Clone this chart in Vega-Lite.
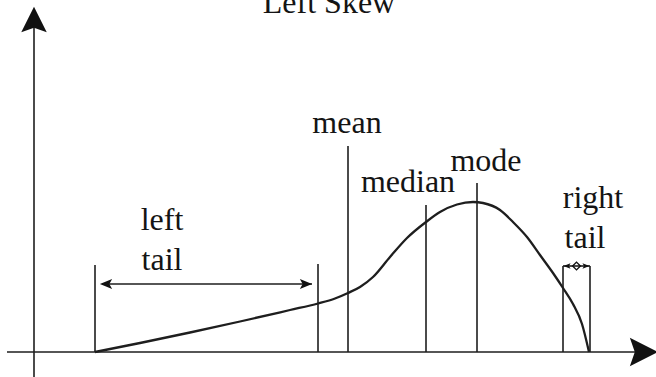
{
  "$schema": "https://vega.github.io/schema/vega-lite/v6.json",
  "width": 656,
  "height": 377,
  "autosize": {"type": "none"},
  "padding": 0,
  "background": "white",
  "config": {"view": {"stroke": null}},
  "datasets": {
    "segments": [
      {"part": "y axis", "x": 34, "y": 25, "x2": 34, "y2": 377},
      {"part": "x axis", "x": 7, "y": 352, "x2": 642, "y2": 352},
      {"part": "left tail start", "x": 95, "y": 265, "x2": 95, "y2": 352},
      {"part": "left tail end", "x": 318, "y": 264, "x2": 318, "y2": 352},
      {"part": "mean", "x": 348, "y": 146, "x2": 348, "y2": 352},
      {"part": "median", "x": 426, "y": 205, "x2": 426, "y2": 352},
      {"part": "mode", "x": 477, "y": 183, "x2": 477, "y2": 352},
      {"part": "right tail left", "x": 563, "y": 266, "x2": 563, "y2": 352},
      {"part": "right tail right", "x": 590, "y": 266, "x2": 590, "y2": 352},
      {"part": "right tail top", "x": 563, "y": 266, "x2": 590, "y2": 266},
      {"part": "left tail arrow", "x": 102, "y": 284, "x2": 312, "y2": 284}
    ],
    "curve": [
      {"x": 95, "y": 352},
      {"x": 140, "y": 343},
      {"x": 190, "y": 332.5},
      {"x": 240, "y": 321.5},
      {"x": 290, "y": 310},
      {"x": 318, "y": 303.5},
      {"x": 335, "y": 298.5},
      {"x": 348, "y": 293},
      {"x": 360, "y": 287},
      {"x": 373, "y": 277},
      {"x": 390, "y": 257},
      {"x": 407, "y": 238},
      {"x": 426, "y": 222},
      {"x": 440, "y": 212},
      {"x": 457, "y": 204.5},
      {"x": 473, "y": 202},
      {"x": 483, "y": 203},
      {"x": 500, "y": 210},
      {"x": 513, "y": 222},
      {"x": 527, "y": 237},
      {"x": 540, "y": 255},
      {"x": 553, "y": 273},
      {"x": 563, "y": 288},
      {"x": 573, "y": 304},
      {"x": 582, "y": 324},
      {"x": 589, "y": 352}
    ],
    "heads": [
      {"dir": "up", "x": 34, "y": 19.5},
      {"dir": "right", "x": 644, "y": 352},
      {"dir": "left", "x": 106, "y": 284},
      {"dir": "rightsmall", "x": 306, "y": 284},
      {"dir": "tleft", "x": 567, "y": 266},
      {"dir": "tright", "x": 586, "y": 266}
    ],
    "labels": [
      {"label": "Left Skew", "x": 329, "y": 13},
      {"label": "mean", "x": 347, "y": 133},
      {"label": "median", "x": 408, "y": 192},
      {"label": "mode", "x": 486, "y": 171},
      {"label": "left", "x": 162, "y": 230},
      {"label": "tail", "x": 162, "y": 270},
      {"label": "right", "x": 593, "y": 208},
      {"label": "tail", "x": 585, "y": 248}
    ]
  },
  "encoding": {
    "x": {"field": "x", "type": "quantitative", "scale": {"domain": [0, 656], "nice": false, "zero": false}, "axis": null},
    "y": {"field": "y", "type": "quantitative", "scale": {"domain": [0, 377], "nice": false, "zero": false, "reverse": true}, "axis": null}
  },
  "layer": [
    {
      "data": {"name": "segments"},
      "mark": {"type": "rule", "stroke": "#1e1e1e", "strokeWidth": 1.6},
      "encoding": {
        "x2": {"field": "x2"},
        "y2": {"field": "y2"}
      }
    },
    {
      "data": {"name": "curve"},
      "mark": {"type": "line", "stroke": "#1e1e1e", "strokeWidth": 2.3, "interpolate": "monotone"},
      "encoding": {"order": {"field": "x", "type": "quantitative"}}
    },
    {
      "data": {"name": "heads"},
      "transform": [{"filter": "datum.dir === 'up'"}],
      "mark": {"type": "point", "shape": "M0,-1L1,1L0,0.65L-1,1Z", "size": 650, "filled": true, "color": "#111", "opacity": 1}
    },
    {
      "data": {"name": "heads"},
      "transform": [{"filter": "datum.dir === 'right'"}],
      "mark": {"type": "point", "shape": "M1,0L-1,-1L-0.65,0L-1,1Z", "size": 800, "filled": true, "color": "#111", "opacity": 1}
    },
    {
      "data": {"name": "heads"},
      "transform": [{"filter": "datum.dir === 'left'"}],
      "mark": {"type": "point", "shape": "M-1,0L1,-0.8L0.55,0L1,0.8Z", "size": 150, "filled": true, "color": "#111", "opacity": 1}
    },
    {
      "data": {"name": "heads"},
      "transform": [{"filter": "datum.dir === 'rightsmall'"}],
      "mark": {"type": "point", "shape": "M1,0L-1,-0.8L-0.55,0L-1,0.8Z", "size": 150, "filled": true, "color": "#111", "opacity": 1}
    },
    {
      "data": {"name": "heads"},
      "transform": [{"filter": "datum.dir === 'tleft'"}],
      "mark": {"type": "point", "shape": "M-1,0L1,-0.8L0.55,0L1,0.8Z", "size": 50, "filled": true, "color": "#111", "opacity": 1}
    },
    {
      "data": {"name": "heads"},
      "transform": [{"filter": "datum.dir === 'tright'"}],
      "mark": {"type": "point", "shape": "M1,0L-1,-0.8L-0.55,0L-1,0.8Z", "size": 50, "filled": true, "color": "#111", "opacity": 1}
    },
    {
      "data": {"values": [{"x": 576.5, "y": 266}]},
      "mark": {"type": "point", "shape": "diamond", "size": 60, "filled": false, "stroke": "#111", "strokeWidth": 1.4, "opacity": 1}
    },
    {
      "data": {"name": "labels"},
      "mark": {"type": "text", "font": "Liberation Serif", "fontSize": 32, "align": "center", "baseline": "alphabetic", "color": "#141414"},
      "encoding": {
        "text": {"field": "label"}
      }
    }
  ]
}
